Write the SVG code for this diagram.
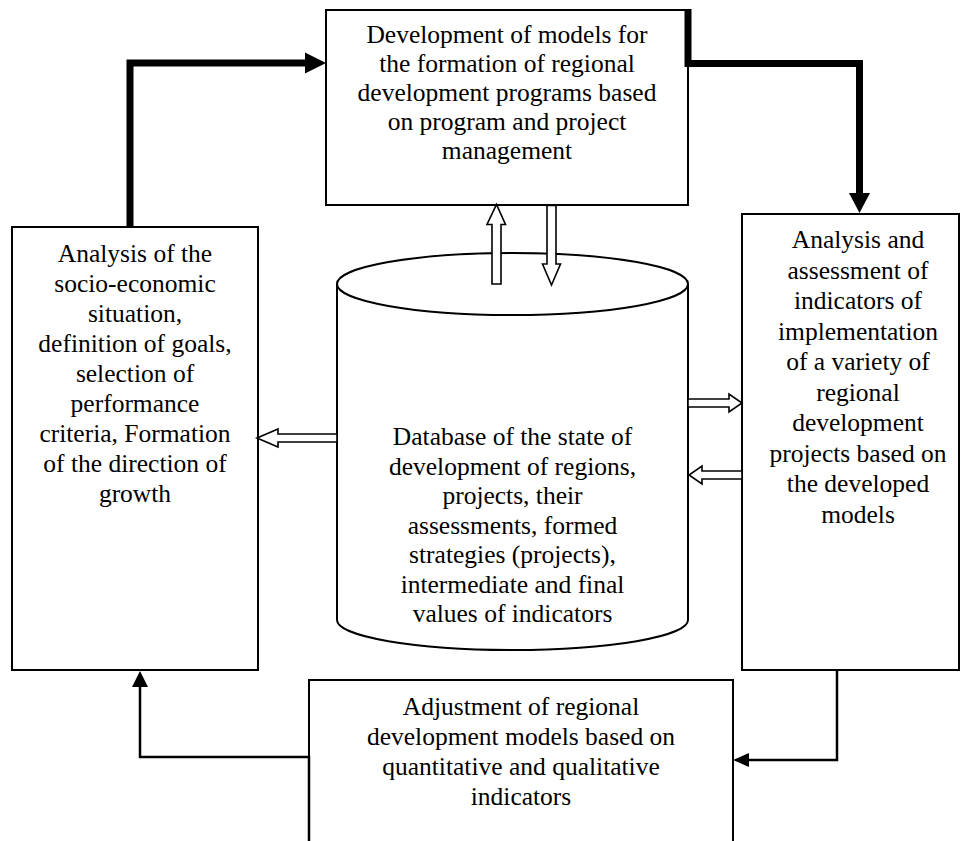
<svg xmlns="http://www.w3.org/2000/svg" width="961" height="841" viewBox="0 0 961 841">
  <style>
    .box { fill: #fff; stroke: #000; stroke-width: 2; }
    .lbl { font-family: "Liberation Serif", "DejaVu Serif", serif; font-size: 25.5px; fill: #000; text-anchor: middle; }
    .thick { fill: none; stroke: #000; stroke-width: 7; stroke-linejoin: miter; }
    .thin { fill: none; stroke: #000; stroke-width: 2.5; }
    .head { fill: #000; stroke: none; }
    .hollow { fill: #fff; stroke: #000; stroke-width: 1.6; stroke-linejoin: miter; }
  </style>

  <rect width="961" height="841" fill="#fff"/>

  <!-- Top node: model development -->
  <g id="node-models">
    <rect class="box" x="326" y="10" width="362" height="195"/>
    <text class="lbl" x="507" y="43">Development of models for</text>
    <text class="lbl" x="507" y="72">the formation of regional</text>
    <text class="lbl" x="507" y="101">development programs based</text>
    <text class="lbl" x="507" y="130">on program and project</text>
    <text class="lbl" x="507" y="159">management</text>
  </g>

  <!-- Left node: analysis of the situation -->
  <g id="node-analysis">
    <rect class="box" x="12" y="227" width="246" height="443"/>
    <text class="lbl" x="135" y="262">Analysis of the</text>
    <text class="lbl" x="135" y="292">socio-economic</text>
    <text class="lbl" x="135" y="322">situation,</text>
    <text class="lbl" x="135" y="352">definition of goals,</text>
    <text class="lbl" x="135" y="382">selection of</text>
    <text class="lbl" x="135" y="412">performance</text>
    <text class="lbl" x="135" y="442">criteria, Formation</text>
    <text class="lbl" x="135" y="472">of the direction of</text>
    <text class="lbl" x="135" y="502">growth</text>
  </g>

  <!-- Right node: assessment of indicators -->
  <g id="node-assessment">
    <rect class="box" x="742" y="214" width="217" height="456"/>
    <text class="lbl" x="858" y="248">Analysis and</text>
    <text class="lbl" x="858" y="278.5">assessment of</text>
    <text class="lbl" x="858" y="309">indicators of</text>
    <text class="lbl" x="858" y="339.5">implementation</text>
    <text class="lbl" x="858" y="370">of a variety of</text>
    <text class="lbl" x="858" y="400.5">regional</text>
    <text class="lbl" x="858" y="431">development</text>
    <text class="lbl" x="858" y="461.5">projects based on</text>
    <text class="lbl" x="858" y="492">the developed</text>
    <text class="lbl" x="858" y="522.5">models</text>
  </g>

  <!-- Bottom node: model adjustment (open at the page edge) -->
  <g id="node-adjustment">
    <path class="box" d="M309,850 V680 H733 V850"/>
    <text class="lbl" x="521" y="715">Adjustment of regional</text>
    <text class="lbl" x="521" y="745">development models based on</text>
    <text class="lbl" x="521" y="775">quantitative and qualitative</text>
    <text class="lbl" x="521" y="805">indicators</text>
  </g>

  <!-- Central node: database cylinder -->
  <g id="node-database">
    <path class="box" d="M337,284 V620 A175.5,30 0 0 0 688,620 V284"/>
    <ellipse class="box" cx="512.5" cy="284" rx="175.5" ry="31"/>
    <text class="lbl" x="512.5" y="445">Database of the state of</text>
    <text class="lbl" x="512.5" y="474.5">development of regions,</text>
    <text class="lbl" x="512.5" y="504">projects, their</text>
    <text class="lbl" x="512.5" y="533.5">assessments, formed</text>
    <text class="lbl" x="512.5" y="563">strategies (projects),</text>
    <text class="lbl" x="512.5" y="592.5">intermediate and final</text>
    <text class="lbl" x="512.5" y="622">values of indicators</text>
  </g>

  <!-- Connectors -->
  <g id="connectors">
    <!-- main cycle: analysis -> models -> assessment -->
    <path class="thick" d="M130,227 V63 H306"/>
    <polygon class="head" points="305,52.5 326,63 305,73.5"/>
    <path class="thick" d="M688,9 V63.5 H859.5 V194"/>
    <polygon class="head" points="849,193 870,193 859.5,213"/>

    <!-- assessment -> adjustment -->
    <path class="thin" d="M837,670 V760 H748"/>
    <polygon class="head" points="749,753 733,760 749,767"/>

    <!-- adjustment -> analysis -->
    <path class="thin" d="M309,841 V757 H140 V686"/>
    <polygon class="head" points="132,687 140,671 148,687"/>

    <!-- hollow exchange arrows with the database -->
    <polygon class="hollow" points="492,284 492,224.5 487,224.5 496.5,204.5 505.5,224.5 501,224.5 501,284"/>
    <polygon class="hollow" points="547,205.5 556,205.5 556,264 560.5,264 551.5,285 542.5,264 547,264"/>
    <polygon class="hollow" points="337,434 278,434 278,429 257,438 278,447 278,442 337,442"/>
    <polygon class="hollow" points="688,399 729,399 729,394 742,403 729,412 729,407 688,407"/>
    <polygon class="hollow" points="742,471 702,471 702,466 689,475 702,484 702,479 742,479"/>
  </g>
</svg>
